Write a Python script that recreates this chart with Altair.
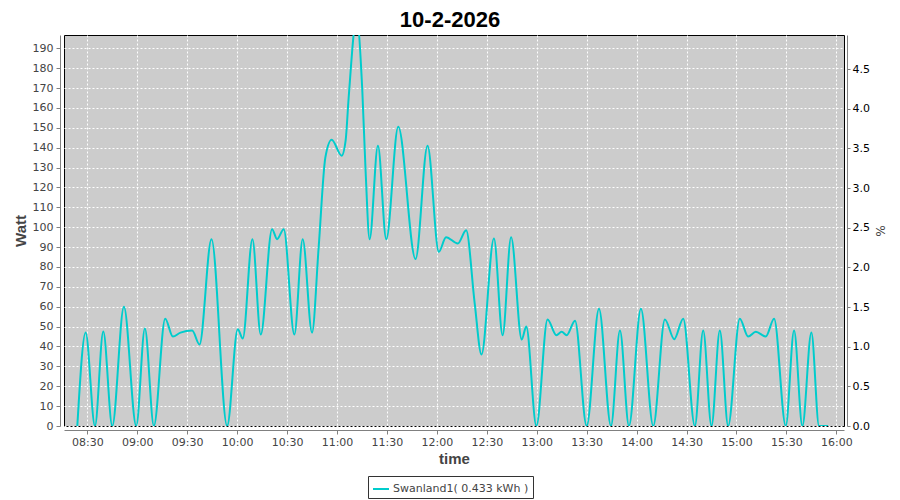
import altair as alt
import pandas as pd

title_text = "10-2-2026"
series_name = "Swanland1( 0.433 kWh )"

# sample times (HH:MM:SS) and power in Watt
times = [
    "08:24:00", "08:29:00", "08:34:36", "08:39:36", "08:45:00", "08:52:00", "08:59:24",
    "09:04:36", "09:10:00", "09:16:48", "09:21:24", "09:26:00", "09:33:00", "09:37:24",
    "09:44:36", "09:54:00", "10:00:24", "10:03:24", "10:09:12", "10:14:12", "10:21:00",
    "10:24:00", "10:28:00", "10:34:24", "10:39:24", "10:45:00", "10:49:00", "10:53:00",
    "10:56:48", "11:02:48", "11:05:12", "11:07:00", "11:11:48", "11:15:12", "11:17:12",
    "11:19:36", "11:24:36", "11:29:36", "11:36:48", "11:47:12", "11:54:24", "12:01:12",
    "12:05:30", "12:12:36", "12:17:36", "12:22:42", "12:26:48", "12:34:18", "12:39:30",
    "12:44:36", "12:51:00", "12:53:42", "12:59:48", "13:06:30", "13:11:48", "13:15:00",
    "13:18:00", "13:23:00", "13:30:00", "13:37:24", "13:44:36", "13:50:00", "13:55:24",
    "14:02:36", "14:10:00", "14:17:00", "14:22:36", "14:28:00", "14:35:00", "14:40:00",
    "14:45:00", "14:50:00", "14:55:00", "15:02:00", "15:07:00", "15:11:36", "15:17:36",
    "15:22:36", "15:29:36", "15:34:36", "15:39:36", "15:45:00", "15:49:36", "15:55:00",
]
watt = [
    0, 47, 0, 47.5, 0, 60, 0,
    49, 0, 54, 45, 47, 48, 41,
    94, 0, 48.7, 44, 94, 46, 99,
    94, 99, 46, 94, 47, 90, 135,
    144, 136, 143.7, 165, 205, 169, 128,
    94, 141, 94, 150.5, 84, 141, 87.6,
    95, 91.8, 98.5, 62, 36, 94.3, 45.7,
    95, 43.5, 50, 0, 53.6, 45.7, 47.4,
    45.7, 53, 0, 59, 0, 48, 0,
    59, 0, 53.6, 43.7, 54, 0, 48,
    0, 48, 0, 54, 45, 47.4, 45,
    54, 0, 48, 0, 47, 0, 0,
]

x_ticks = [510 + 30 * i for i in range(16)]          # 08:30 .. 16:00
y_ticks = list(range(0, 200, 10))                     # 0 .. 190
pct_ticks = [0.0, 0.5, 1.0, 1.5, 2.0, 2.5, 3.0, 3.5, 4.0, 4.5]


def to_min(s):
    h, m, sec = (int(p) for p in s.split(":"))
    return h * 60 + m + sec / 60.0


df = pd.DataFrame({
    "minute": [to_min(t) for t in times],
    "watt": watt,
    "series": series_name,
})

tick_font = "DejaVu Sans"
title_font = "Liberation Sans"
axis_gray = "#808080"

xenc = alt.X(
    "minute:Q",
    scale=alt.Scale(domain=[496.0, 964.6], nice=False, zero=False),
    axis=alt.Axis(
        title="time", values=x_ticks, orient="bottom", offset=4,
        labelExpr="(datum.value < 600 ? '0' : '') + floor(datum.value / 60) + ':' + (datum.value % 60 == 0 ? '00' : '30')",
        tickSize=4, labelPadding=2, labelFont=tick_font, labelFontSize=11,
        labelColor="#444444", domainColor=axis_gray, tickColor=axis_gray,
        grid=True, gridColor="white", gridDash=[2, 2], gridWidth=1, gridOpacity=1,
        titleFont=title_font, titleFontSize=15, titleFontWeight="bold",
        titleColor="#444444", titlePadding=4, labelFlush=False,
    ),
)

line = alt.Chart(df).mark_line(
    interpolate="monotone", strokeWidth=2, clip=True
).encode(
    x=xenc,
    y=alt.Y(
        "watt:Q",
        scale=alt.Scale(domain=[0, 196.7], nice=False, zero=True),
        axis=alt.Axis(
            title="Watt", values=y_ticks, orient="left", offset=4,
            tickSize=4, labelPadding=3, labelFont=tick_font, labelFontSize=11,
            labelColor="#444444", domainColor=axis_gray, tickColor=axis_gray,
            grid=True, gridColor="white", gridDash=[2, 2], gridWidth=1, gridOpacity=1,
            titleFont=title_font, titleFontSize=15, titleFontWeight="bold",
            titleColor="#444444", titlePadding=4, labelFlush=False,
        ),
    ),
    color=alt.Color(
        "series:N",
        scale=alt.Scale(domain=[series_name], range=["#00CCCC"]),
        legend=alt.Legend(
            title=None, orient="none", legendX=304, legendY=441,
            symbolType="stroke", symbolStrokeWidth=2, symbolSize=256,
            labelFont=tick_font, labelFontSize=11, labelColor="#444444",
            labelOffset=3, strokeColor="#333333", padding=4, fillColor="white",
        ),
    ),
)

right = alt.Chart(df).transform_calculate(pct="0").mark_point(opacity=0).encode(
    x=xenc,
    y=alt.Y(
        "pct:Q",
        scale=alt.Scale(domain=[0, 4.93], nice=False, zero=True),
        axis=alt.Axis(
            title="%", values=pct_ticks, format=".1f", orient="right", offset=3,
            tickSize=3, labelPadding=2, labelFont=tick_font, labelFontSize=11,
            labelColor="black", domainColor=axis_gray, tickColor=axis_gray,
            grid=False, titleFont=tick_font, titleFontSize=12,
            titleFontWeight="normal", titleColor="#444444", titlePadding=3,
            labelFlush=False,
        ),
    ),
)

chart = alt.layer(line, right).resolve_scale(y="independent").properties(
    width=780,
    height=391,
    autosize=alt.AutoSizeParams(type="none"),
    padding={"left": 56, "top": 27, "right": 48, "bottom": 73},
    background="white",
    title=alt.TitleParams(
        title_text, font=title_font, fontSize=22, fontWeight="bold",
        color="black", anchor="middle", frame="group", baseline="bottom",
        offset=8, dx=-4, dy=26.5,
    ),
).configure_view(fill="#CCCCCC", stroke="black", strokeWidth=1)

chart.save("out.html", embed_options={"renderer": "svg", "actions": False})
